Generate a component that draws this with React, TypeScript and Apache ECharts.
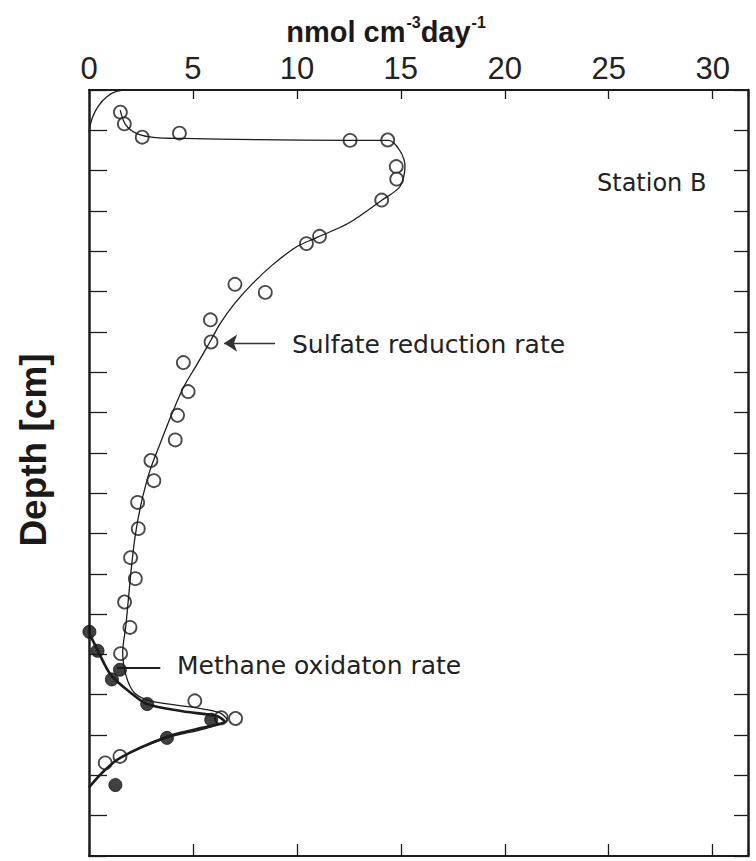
import React, { useEffect, useRef } from "react";
import * as echarts from "echarts";

// ---- axis definitions ----
const rateMin = 0;
const rateMax = 31.7;
const rateInterval = 5;
const depthMin = 0;
const depthMax = 19;
const depthInterval = 1;

// ---- measured data: sulfate reduction rate (open circles) ----
const sulfateRate = [1.51, 1.7, 2.56, 4.35, 12.56, 14.37, 14.78, 14.8, 14.08, 11.09, 10.46, 7.02, 8.48, 5.84, 5.87, 4.54, 4.77, 4.26, 4.15, 2.98, 3.12, 2.34, 2.37, 2.0, 2.23, 1.71, 1.97, 1.52, 5.09, 6.36, 7.05, 1.49, 0.78];
const sulfateDepth = [0.55, 0.84, 1.17, 1.07, 1.25, 1.24, 1.9, 2.21, 2.73, 3.63, 3.81, 4.82, 5.02, 5.7, 6.25, 6.76, 7.48, 8.07, 8.68, 9.19, 9.69, 10.23, 10.88, 11.6, 12.12, 12.7, 13.33, 13.98, 15.15, 15.57, 15.59, 16.53, 16.69];

// ---- measured data: methane oxidation rate (filled circles) ----
const methaneRate = [0.02, 0.41, 1.49, 1.1, 2.8, 5.88, 3.75, 1.27];
const methaneDepth = [13.44, 13.91, 14.38, 14.62, 15.23, 15.62, 16.07, 17.24];

// ---- fitted curves ----
const surfaceFitRate = [0, 0.15, 0.45, 0.86, 1.35, 1.9];
const surfaceFitDepth = [1.05, 0.7, 0.4, 0.17, 0.03, 0];

const sulfateFitRate = [1.5, 1.75, 2.3, 3.2, 4.5, 8, 12.5, 14.4, 14.95, 15.2, 14.95, 14.1, 12.5, 11.0, 9.95, 8.8, 7.85, 7.0, 6.3, 5.87, 5.2, 4.54, 3.95, 3.4, 2.93, 2.5, 2.21, 1.99, 1.78, 1.62, 1.79, 2.18, 3.0, 5.1, 6.3, 6.64, 5.5, 3.75, 1.48, 0.62, 0];
const sulfateFitDepth = [0.5, 0.85, 1.08, 1.18, 1.2, 1.23, 1.25, 1.25, 1.5, 1.9, 2.4, 2.73, 3.3, 3.65, 3.9, 4.35, 4.81, 5.3, 5.8, 6.2, 6.8, 7.38, 8.08, 8.8, 9.44, 10.28, 11.1, 12.1, 13.26, 13.95, 14.54, 14.95, 15.16, 15.32, 15.45, 15.62, 15.85, 16.07, 16.57, 16.94, 17.3];

const methaneFitRate = [0, 0.43, 1.04, 2.0, 2.79, 4.5, 6.15, 6.52, 5.2, 3.72, 1.48, 0.62, 0];
const methaneFitDepth = [13.46, 13.91, 14.5, 14.95, 15.23, 15.41, 15.53, 15.66, 15.85, 16.05, 16.57, 16.94, 17.3];

// ---- annotation anchors (data coordinates) ----
const sulfateArrow = [[8.95, 6.28], [6.5, 6.28]];
const methanePointer = [[1.36, 14.33], [3.43, 14.33]];

const pairs = (xs: number[], ys: number[]) => xs.map((x, i) => [x, ys[i]]);

const INK = "#1c1c1c";
const NARROW = "'Liberation Sans Narrow', 'Arial Narrow', 'Liberation Sans', sans-serif";
const SANS = "'DejaVu Sans', 'Liberation Sans', sans-serif";
const BOLD = "'Liberation Sans', Arial, sans-serif";

export default function App() {
  const ref = useRef<HTMLDivElement>(null);

  useEffect(() => {
    const chart = echarts.init(ref.current!, null, { renderer: "svg" });

    const xCommon = {
      type: "value" as const,
      min: rateMin,
      max: rateMax,
      interval: rateInterval,
      splitLine: { show: false },
    };
    const yCommon = {
      type: "value" as const,
      min: depthMin,
      max: depthMax,
      interval: depthInterval,
      inverse: true,
      splitLine: { show: false },
      axisLabel: { show: false },
    };

    chart.setOption({
      animation: false,
      backgroundColor: "#ffffff",
      grid: { left: 89, right: 8, top: 90, bottom: 5, containLabel: false, outerBoundsMode: "none" },
      xAxis: [
        {
          ...xCommon,
          position: "top",
          axisLine: { show: true, onZero: false, lineStyle: { color: INK, width: 2 } },
          axisTick: { show: true, inside: true, length: 9, lineStyle: { color: INK, width: 1.3 } },
          axisLabel: {
            show: true,
            margin: 6,
            fontSize: 31,
            fontFamily: NARROW,
            color: "#222",
            formatter: (v: number) => (v % 5 === 0 ? String(v) : ""),
          },
        },
        {
          ...xCommon,
          position: "bottom",
          axisLine: { show: true, onZero: false, lineStyle: { color: INK, width: 2 } },
          axisTick: { show: true, inside: true, length: 12, lineStyle: { color: INK, width: 1.3 } },
          axisLabel: { show: false },
        },
      ],
      yAxis: [
        {
          ...yCommon,
          position: "left",
          axisLine: { show: true, onZero: false, lineStyle: { color: INK, width: 2.5 } },
          axisTick: { show: true, inside: true, length: 18, lineStyle: { color: INK, width: 1.3 } },
        },
        {
          ...yCommon,
          position: "right",
          axisLine: { show: true, onZero: false, lineStyle: { color: INK, width: 2.5 } },
          axisTick: { show: true, inside: true, length: 14, lineStyle: { color: INK, width: 1.3 } },
        },
      ],
      series: [
        {
          name: "surface fit",
          type: "line",
          data: pairs(surfaceFitRate, surfaceFitDepth),
          smooth: 0.4,
          showSymbol: false,
          symbol: "none",
          lineStyle: { color: INK, width: 1.3 },
          silent: true,
        },
        {
          name: "Sulfate fit",
          type: "line",
          data: pairs(sulfateFitRate, sulfateFitDepth),
          smooth: 0.3,
          showSymbol: false,
          symbol: "none",
          lineStyle: { color: INK, width: 1.3 },
          silent: true,
          markLine: {
            silent: true,
            symbol: ["none", "arrow"],
            symbolSize: 13,
            label: { show: false },
            lineStyle: { color: "#333", width: 1.3, type: "solid" },
            data: [[{ coord: sulfateArrow[0] }, { coord: sulfateArrow[1] }]],
          },
        },
        {
          name: "Methane fit",
          type: "line",
          data: pairs(methaneFitRate, methaneFitDepth),
          smooth: 0.3,
          showSymbol: false,
          symbol: "none",
          lineStyle: { color: INK, width: 2.6 },
          silent: true,
          markLine: {
            silent: true,
            symbol: ["none", "none"],
            label: { show: false },
            lineStyle: { color: INK, width: 2, type: "solid" },
            data: [[{ coord: methanePointer[0] }, { coord: methanePointer[1] }]],
          },
        },
        {
          name: "Sulfate reduction rate",
          type: "scatter",
          data: pairs(sulfateRate, sulfateDepth),
          symbol: "circle",
          symbolSize: 13,
          itemStyle: { color: "#ffffff", borderColor: INK, borderWidth: 1.8 },
        },
        {
          name: "Methane oxidation rate",
          type: "scatter",
          data: pairs(methaneRate, methaneDepth),
          symbol: "circle",
          symbolSize: 13,
          itemStyle: { color: "#111", borderColor: "#111", borderWidth: 1 },
        },
      ],
      graphic: [
        {
          type: "text",
          x: 386,
          y: 30,
          style: {
            text: "{b|nmol cm}{s|-3}{b|day}{s|-1}",
            align: "center",
            verticalAlign: "middle",
            fill: "#1a1a1a",
            rich: {
              b: { fontSize: 29, fontWeight: "bold", fontFamily: BOLD, fill: "#1a1a1a", lineHeight: 32, verticalAlign: "bottom" },
              s: { fontSize: 16, fontWeight: "bold", fontFamily: BOLD, fill: "#1a1a1a", lineHeight: 32, verticalAlign: "top", padding: [0, 0, 0, 1] },
            },
          },
        },
        {
          type: "text",
          x: 33,
          y: 450,
          rotation: Math.PI / 2,
          style: {
            text: "Depth [cm]",
            align: "center",
            verticalAlign: "middle",
            fontSize: 37,
            fontWeight: "bold",
            fontFamily: BOLD,
            fill: "#1a1a1a",
          },
        },
        {
          type: "text",
          x: 597,
          y: 183,
          style: { text: "Station B", align: "left", verticalAlign: "middle", fontSize: 24, fontFamily: SANS, fill: "#222" },
        },
        {
          type: "text",
          x: 292,
          y: 344,
          style: { text: "Sulfate reduction rate", align: "left", verticalAlign: "middle", fontSize: 25, fontFamily: SANS, fill: "#222" },
        },
        {
          type: "text",
          x: 177,
          y: 665,
          style: { text: "Methane oxidaton rate", align: "left", verticalAlign: "middle", fontSize: 25, fontFamily: SANS, fill: "#222" },
        },
      ],
    });

    return () => chart.dispose();
  }, []);

  return (
    <div
      ref={ref}
      style={{ position: "fixed", left: 0, top: 0, width: 756, height: 861, background: "#fff" }}
    />
  );
}
